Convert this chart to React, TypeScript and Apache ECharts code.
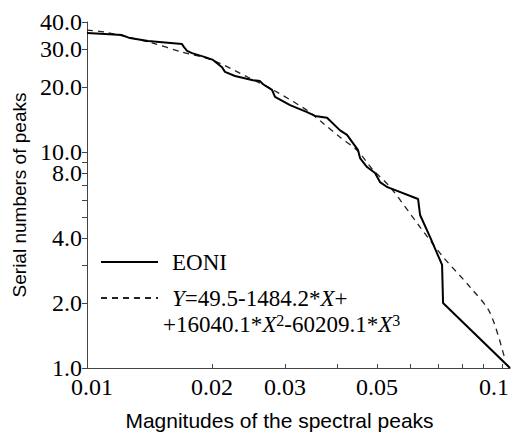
import React, { useEffect, useRef } from "react";
import * as echarts from "echarts";

// EONI empirical curve (magnitude, serial number)
const eoniX = [0.01, 0.01105, 0.01214, 0.01269, 0.01403, 0.01694, 0.01713, 0.01742, 0.01791, 0.01925, 0.02012, 0.02115, 0.0215, 0.02273, 0.02512, 0.02611, 0.02656, 0.02791, 0.02838, 0.03085, 0.0339, 0.03543, 0.03787, 0.04071, 0.04231, 0.04498, 0.04548, 0.04728, 0.04943, 0.0508, 0.05284, 0.05372, 0.06276, 0.06346, 0.06708, 0.07169, 0.07208, 0.1045];
const eoniY = [35.6, 35.2, 34.8, 33.7, 32.7, 31.6, 30.6, 29.4, 28.7, 27.5, 26.7, 24.7, 23.5, 22.5, 21.5, 21.3, 20.6, 19.4, 18.0, 16.5, 15.3, 14.7, 14.4, 12.6, 12.0, 10.2, 9.38, 8.52, 8.0, 7.26, 6.89, 6.81, 6.06, 5.11, 4.04, 3.0, 2.0, 1.0];

// Fitted curve
const fitX = [0.01, 0.01105, 0.01434, 0.01694, 0.02, 0.02443, 0.02807, 0.0339, 0.03704, 0.04071, 0.04473, 0.04889, 0.05372, 0.06346, 0.07208, 0.08374, 0.09356, 0.1017];
const fitY = [36.7, 35.9, 32.0, 29.0, 26.7, 22.2, 19.4, 15.6, 13.6, 11.7, 10.2, 8.25, 6.89, 4.49, 3.27, 2.37, 1.8, 1.09];

const xTickValues = [0.01, 0.02, 0.03, 0.04, 0.05, 0.06, 0.07, 0.08, 0.09, 0.1];
const xLabelValues = [0.01, 0.02, 0.03, 0.05, 0.1];
const yTickValues = [1, 2, 3, 4, 5, 6, 7, 8, 9, 10, 20, 30, 40];
const yLabelValues = [1, 2, 4, 8, 10, 20, 30, 40];

const SERIF = "'Liberation Serif', 'Times New Roman', serif";
const SANS = "'Liberation Sans', Arial, sans-serif";

export default function App() {
  const ref = useRef<HTMLDivElement>(null);
  useEffect(() => {
    if (!ref.current) return;
    const chart = echarts.init(ref.current, null, { renderer: "svg" });
    const axisColor = "#444";
    const tickFont = { fontFamily: SERIF, fontSize: 24, color: "#000" };
    const legFont = { fontFamily: SERIF, fontSize: 23, color: "#000", lineHeight: 26 };
    const transparent = "rgba(0,0,0,0)";
    chart.setOption({
      animation: false,
      backgroundColor: "#fff",
      grid: { left: 87, right: 3, top: 22, bottom: 67, outerBoundsMode: "none", containLabel: false },
      xAxis: {
        type: "log",
        logBase: 10,
        min: 0.01,
        max: 0.1045,
        name: "Magnitudes of the spectral peaks",
        nameLocation: "middle",
        nameGap: 42,
        nameTextStyle: { fontFamily: SANS, fontSize: 21, color: "#000", padding: [0, 38, 0, 0] },
        axisLine: { show: true, lineStyle: { color: axisColor, width: 1 } },
        axisTick: { show: true, inside: true, length: 4, customValues: xTickValues, lineStyle: { color: axisColor } },
        axisLabel: {
          show: true,
          margin: 7,
          customValues: xLabelValues,
          ...tickFont,
          formatter: (v: number) => {
            const s = String(+(+v).toFixed(3));
            if (s === "0.01") return "{l|0.01}";
            if (s === "0.1") return "{r|0.1}";
            return s;
          },
          rich: {
            l: { ...tickFont, padding: [0, 0, 0, 10] },
            r: { ...tickFont, padding: [0, 16, 0, 0] },
          },
        },
        splitLine: { show: false },
        minorTick: { show: false },
      },
      yAxis: {
        type: "log",
        logBase: 10,
        min: 1,
        max: 40,
        name: "Serial numbers of peaks",
        nameLocation: "middle",
        nameGap: 58,
        nameTextStyle: { fontFamily: SANS, fontSize: 19, color: "#000" },
        axisLine: { show: true, lineStyle: { color: axisColor, width: 1 } },
        axisTick: { show: true, inside: false, length: 5, customValues: yTickValues, lineStyle: { color: axisColor } },
        axisLabel: {
          show: true,
          margin: 5,
          customValues: yLabelValues,
          ...tickFont,
          formatter: (v: number) => (+v).toFixed(1),
        },
        splitLine: { show: false },
        minorTick: { show: false },
      },
      legend: {
        show: true,
        orient: "vertical",
        left: 95,
        top: 244,
        itemWidth: 57,
        itemHeight: 14,
        itemGap: 10,
        data: ["EONI", "fit"],
        itemStyle: { color: transparent, borderColor: transparent, borderWidth: 0, opacity: 0 },
        textStyle: {
          ...legFont,
          padding: [0, 0, 0, 9],
          rich: {
            n: { fontFamily: SERIF, fontSize: 23, color: "#000", lineHeight: 26 },
            i: { fontFamily: SERIF, fontSize: 23, fontStyle: "italic", color: "#000", lineHeight: 26 },
          },
        },
        formatter: (name: string) =>
          name === "EONI" ? "{n|EONI}" : "{i|Y}{n|=49.5-1484.2*}{i|X}{n|+}",
        selectedMode: false,
      },
      graphic: [
        {
          type: "text",
          left: 163,
          top: 311,
          style: {
            text: "{n|+16040.1*}{i|X}{s|2}{n|-60209.1*}{i|X}{s|3}",
            rich: {
              n: { fontFamily: SERIF, fontSize: 23, fill: "#000", lineHeight: 26 },
              i: { fontFamily: SERIF, fontSize: 23, fontStyle: "italic", fill: "#000", lineHeight: 26 },
              s: { fontFamily: SERIF, fontSize: 16, fill: "#000", lineHeight: 16, verticalAlign: "top", padding: [1, 0, 0, 0] },
            },
          },
        },
      ],
      series: [
        {
          name: "EONI",
          type: "line",
          data: eoniX.map((x, i) => [x, eoniY[i]]),
          symbol: "none",
          showSymbol: false,
          clip: false,
          lineStyle: { color: "#000", width: 2 },
          itemStyle: { color: "#000" },
          z: 3,
        },
        {
          name: "fit",
          type: "line",
          data: fitX.map((x, i) => [x, fitY[i]]),
          symbol: "none",
          showSymbol: false,
          smooth: 0.3,
          clip: false,
          lineStyle: { color: "#222", width: 1.3, type: [6, 5] },
          itemStyle: { color: "#222" },
          z: 2,
        },
      ],
    });
    return () => chart.dispose();
  }, []);
  return (
    <div
      ref={ref}
      style={{ position: "fixed", left: 0, top: 0, width: 513, height: 435, background: "#fff" }}
    />
  );
}
